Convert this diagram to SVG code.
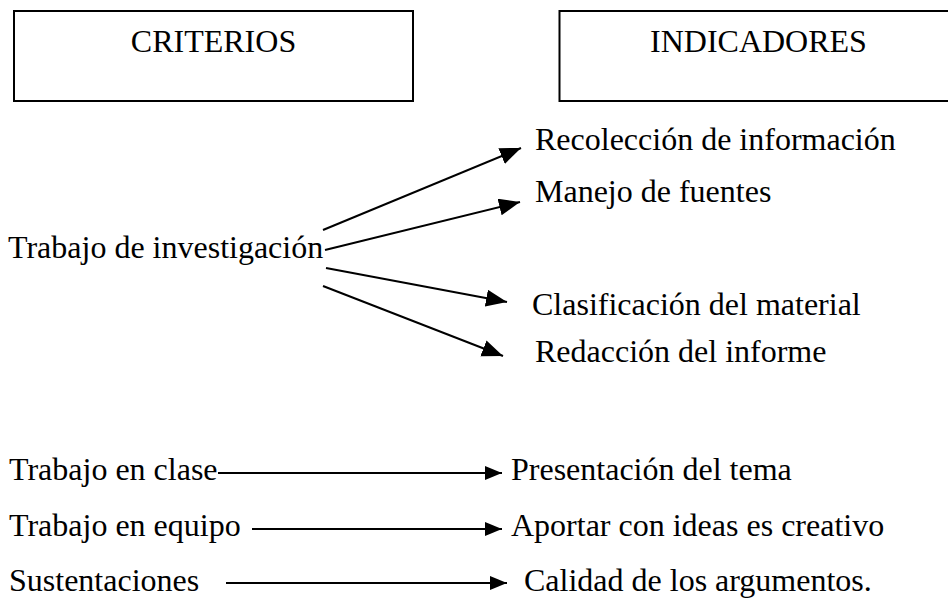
<svg xmlns="http://www.w3.org/2000/svg" width="948" height="599" viewBox="0 0 948 599">
<style>
  text { font-family: "Liberation Serif", "Times New Roman", serif; font-size: 32px; fill: #000; }
  .box { fill: #fff; stroke: #000; stroke-width: 2; }
  .conn { stroke: #000; stroke-width: 2; fill: none; }
  .big { marker-end: url(#arrBig); }
  .small { marker-end: url(#arr); }
</style>
<defs>
  <marker id="arr" markerUnits="userSpaceOnUse" markerWidth="18" markerHeight="16" refX="17" refY="7" orient="auto">
    <path d="M0,0 L17,7 L0,14 z" fill="#000"/>
  </marker>
  <marker id="arrBig" markerUnits="userSpaceOnUse" markerWidth="22" markerHeight="18" refX="21" refY="8.5" orient="auto">
    <path d="M0,0 L21,8.5 L0,17 z" fill="#000"/>
  </marker>
</defs>
<rect width="948" height="599" fill="#fff"/>
<g id="criterios">
  <rect class="box" x="14" y="11" width="399" height="90"/>
  <text x="213.5" y="52" text-anchor="middle">CRITERIOS</text>
</g>
<g id="indicadores">
  <rect class="box" x="559.5" y="11" width="420" height="90"/>
  <text x="650" y="52">INDICADORES</text>
</g>
<g id="trabajo-investigacion"><text x="8" y="258">Trabajo de investigación</text></g>
<g id="recoleccion"><text x="535" y="150">Recolección de información</text></g>
<g id="manejo"><text x="535" y="202">Manejo de fuentes</text></g>
<g id="clasificacion"><text x="532" y="315">Clasificación del material</text></g>
<g id="redaccion"><text x="535" y="362">Redacción del informe</text></g>
<g id="trabajo-clase"><text x="9" y="480">Trabajo en clase</text></g>
<g id="trabajo-equipo"><text x="9" y="536">Trabajo en equipo</text></g>
<g id="sustentaciones"><text x="9" y="591">Sustentaciones</text></g>
<g id="presentacion"><text x="511" y="480">Presentación del tema</text></g>
<g id="aportar"><text x="511" y="536">Aportar con ideas es creativo</text></g>
<g id="calidad"><text x="524" y="591">Calidad de los argumentos.</text></g>
<g id="connectors">
  <line class="conn big" x1="323" y1="230" x2="521" y2="148"/>
  <line class="conn big" x1="325" y1="250" x2="520" y2="202"/>
  <line class="conn big" x1="326" y1="268" x2="507" y2="302"/>
  <line class="conn big" x1="323" y1="286" x2="503" y2="356"/>
  <line class="conn small" x1="218" y1="473" x2="502" y2="473"/>
  <line class="conn small" x1="252" y1="529" x2="502" y2="529"/>
  <line class="conn small" x1="226" y1="583" x2="507" y2="583"/>
</g>
</svg>
